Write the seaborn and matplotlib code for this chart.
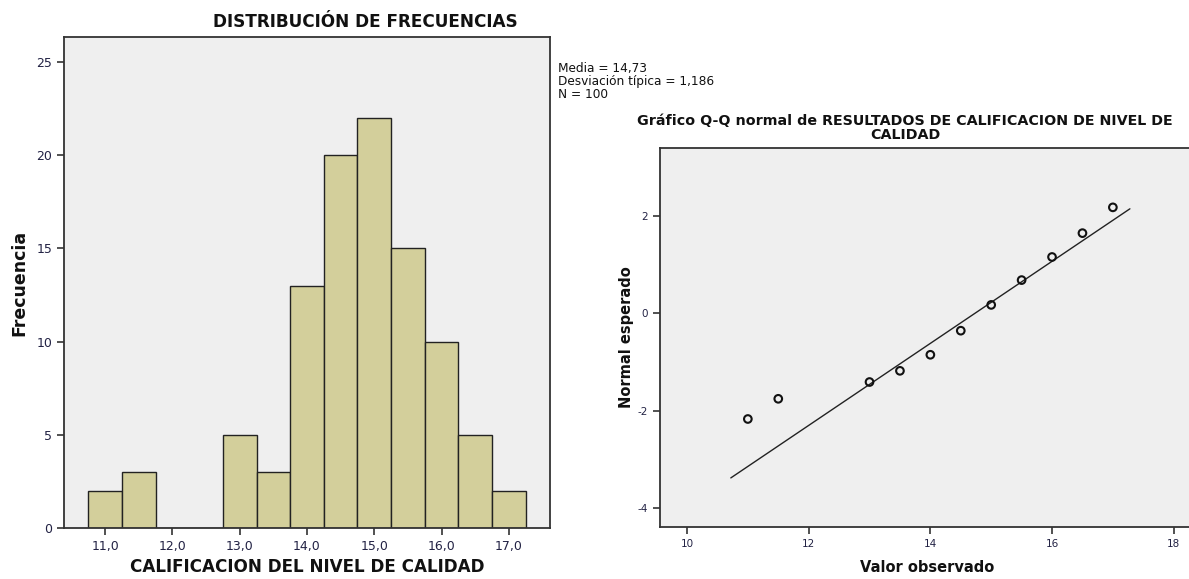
import numpy as np
import pandas as pd
import matplotlib
matplotlib.use("Agg")
import matplotlib.pyplot as plt
import seaborn as sns
from matplotlib.ticker import FuncFormatter, FixedLocator

# ---- data ----
valores = [11.0, 11.5, 13.0, 13.5, 14.0, 14.5, 15.0, 15.5, 16.0, 16.5, 17.0]
frecuencias = [2, 3, 5, 3, 13, 20, 22, 15, 10, 5, 2]
normal_esperado = [-2.17, -1.755, -1.41, -1.18, -0.85, -0.355, 0.175, 0.685, 1.16, 1.65, 2.18]
media = 14.73
desviacion = 1.186
n_total = 100
linea_x = [10.72, 17.28]
hist_xticks = [11.0, 12.0, 13.0, 14.0, 15.0, 16.0, 17.0]
hist_yticks = [0, 5, 10, 15, 20, 25]
qq_xticks = [10, 12, 14, 16, 18]
qq_yticks = [-4, -2, 0, 2]

sns.set_theme(style="white")
plt.rcParams["font.family"] = ["DejaVu Sans"]
plt.rcParams["axes.unicode_minus"] = False

W, H = 1189, 579
fig = plt.figure(figsize=(W / 100, H / 100), dpi=100)
fig.patch.set_facecolor("white")

axbg = "#efefef"
spine_c = "#333333"
bar_c = "#d3cf9b"

# ---- histogram ----
ax1 = fig.add_axes([64 / W, 1 - 528 / H, (550 - 64) / W, (528 - 37) / H])
df = pd.DataFrame({"valor": np.repeat(valores, frecuencias)})
bins = np.arange(10.75, 17.26, 0.5)
sns.histplot(data=df, x="valor", bins=bins, color=bar_c, alpha=1.0,
             edgecolor="#222222", linewidth=1.0, ax=ax1)
ax1.set_facecolor(axbg)
ax1.set_xlim(10.39, 17.61)
ax1.set_ylim(0, 26.33)
ax1.xaxis.set_major_locator(FixedLocator(hist_xticks))
ax1.yaxis.set_major_locator(FixedLocator(hist_yticks))
ax1.xaxis.set_major_formatter(FuncFormatter(lambda v, p: f"{v:.1f}".replace(".", ",")))
ax1.set_xlabel("CALIFICACION DEL NIVEL DE CALIDAD", fontsize=12.1, fontweight="bold",
               color="#111111", labelpad=4)
ax1.set_ylabel("Frecuencia", fontsize=12.5, fontweight="bold", color="#111111", labelpad=6)
ax1.tick_params(axis="both", which="major", direction="out", length=5, width=1.2,
                colors=spine_c, labelsize=9, labelcolor="#222244", bottom=True, left=True)
for s in ax1.spines.values():
    s.set_color(spine_c)
    s.set_linewidth(1.3)

fig.text(365 / W, 1 - 22 / H, "DISTRIBUCIÓN DE FRECUENCIAS", ha="center", va="center",
         fontsize=12.2, fontweight="bold", color="#111111")
fig.text(558 / W, 1 - 62 / H,
         f"Media = {media:.2f}".replace(".", ",") + "\n" +
         f"Desviación típica = {desviacion:.3f}".replace(".", ",") + "\n" +
         f"N = {n_total}",
         ha="left", va="top", fontsize=8.7, color="#111111", linespacing=1.0)

# ---- Q-Q plot ----
ax2 = fig.add_axes([660 / W, 1 - 527 / H, (1195 - 660) / W, (527 - 148) / H])
ax2.set_facecolor(axbg)
qq = pd.DataFrame({"observado": valores, "esperado": normal_esperado})
lx = np.array(linea_x)
line_df = pd.DataFrame({"x": lx, "y": (lx - media) / desviacion})
sns.lineplot(data=line_df, x="x", y="y", color="#222222", linewidth=1.0, ax=ax2)
sns.scatterplot(data=qq, x="observado", y="esperado", marker="o", s=30,
                facecolor="none", edgecolor="#111111", linewidth=1.5, ax=ax2, zorder=3)
ax2.set_xlim(9.556, 18.35)
ax2.set_ylim(-4.39, 3.40)
ax2.xaxis.set_major_locator(FixedLocator(qq_xticks))
ax2.yaxis.set_major_locator(FixedLocator(qq_yticks))
ax2.set_xlabel("Valor observado", fontsize=10.5, fontweight="bold", color="#111111", labelpad=8)
ax2.set_ylabel("Normal esperado", fontsize=10.5, fontweight="bold", color="#111111", labelpad=3)
ax2.tick_params(axis="both", which="major", direction="out", length=5, width=1.2,
                colors=spine_c, labelsize=7.5, labelcolor="#222244", bottom=True, left=True)
for s in ax2.spines.values():
    s.set_color(spine_c)
    s.set_linewidth(1.3)

fig.text(905 / W, 1 - 128 / H,
         "Gráfico Q-Q normal de RESULTADOS DE CALIFICACION DE NIVEL DE\nCALIDAD",
         ha="center", va="center", fontsize=10.3, fontweight="bold", color="#111111",
         linespacing=0.95)

fig.savefig("out.png", dpi=100, facecolor="white")
